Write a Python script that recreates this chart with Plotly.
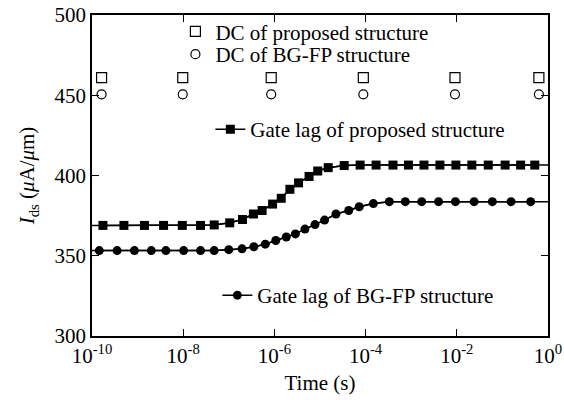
import plotly.graph_objects as go

# DC reference points (time exponents, log10 seconds) and currents (uA/um)
dc_log_t = [-9.79, -8.01, -6.07, -4.05, -2.04, -0.20]
dc_prop_ids = [461.0, 461.0, 461.0, 461.0, 461.0, 461.0]
dc_bgfp_ids = [450.6, 450.6, 450.6, 450.6, 450.6, 450.6]

# Gate-lag transient, proposed structure
gl_prop_log_t = [-9.76, -9.30, -8.85, -8.43, -8.02, -7.62, -7.32, -6.98, -6.70,
                 -6.46, -6.27, -6.04, -5.85, -5.66, -5.47, -5.24, -5.05, -4.82,
                 -4.47, -4.12, -3.77, -3.40, -3.06, -2.72, -2.37, -2.02, -1.67,
                 -1.31, -0.94, -0.60, -0.29]
gl_prop_ids = [368.9, 368.9, 368.9, 368.9, 368.9, 368.9, 369.2, 370.5, 372.6,
               376.0, 378.2, 382.2, 385.8, 391.4, 395.4, 399.4, 402.8, 404.9,
               406.2, 406.5, 406.5, 406.5, 406.5, 406.5, 406.5, 406.5, 406.5,
               406.5, 406.5, 406.5, 406.5]

# Gate-lag transient, BG-FP structure
gl_bgfp_log_t = [-9.84, -9.45, -9.07, -8.70, -8.38, -7.99, -7.62, -7.32, -7.00,
                 -6.71, -6.45, -6.20, -5.97, -5.74, -5.54, -5.33, -5.11, -4.90,
                 -4.65, -4.37, -4.14, -3.83, -3.48, -3.13, -2.77, -2.40, -2.03,
                 -1.62, -1.22, -0.81, -0.38]
gl_bgfp_ids = [353.2, 353.2, 353.2, 353.2, 353.2, 353.2, 353.2, 353.2, 353.8,
               354.3, 355.6, 357.2, 359.5, 361.7, 363.6, 366.6, 369.4, 372.2,
               376.0, 378.2, 380.5, 382.5, 383.7, 383.7, 383.7, 383.7, 383.7,
               383.7, 383.7, 383.7, 383.7]

x_tick_exps = [-10, -8, -6, -4, -2, 0]
y_ticks = [300, 350, 400, 450, 500]

FONT = "Liberation Serif"
FS = 21
to_t = lambda exps: [10.0 ** e for e in exps]

fig = go.Figure()

# lag curves: the fitted line spans the whole time window
for lt, ids in [(gl_prop_log_t, gl_prop_ids), (gl_bgfp_log_t, gl_bgfp_ids)]:
    fig.add_trace(go.Scatter(
        x=[10.0 ** x_tick_exps[0]] + to_t(lt) + [10.0 ** x_tick_exps[-1]],
        y=[ids[0]] + ids + [ids[-1]],
        mode="lines", line=dict(color="black", width=1.5),
        showlegend=False, hoverinfo="skip"))

fig.add_trace(go.Scatter(
    x=to_t(dc_log_t), y=dc_prop_ids, mode="markers",
    name="DC of proposed structure", legend="legend",
    marker=dict(symbol="square-open", size=10, color="black", line=dict(width=1.2))))
fig.add_trace(go.Scatter(
    x=to_t(dc_log_t), y=dc_bgfp_ids, mode="markers",
    name="DC of BG-FP structure", legend="legend2",
    marker=dict(symbol="circle-open", size=9, color="black", line=dict(width=1.2))))
fig.add_trace(go.Scatter(
    x=to_t(gl_prop_log_t), y=gl_prop_ids, mode="lines+markers",
    name="Gate lag of proposed structure", legend="legend3",
    line=dict(color="black", width=1.5),
    marker=dict(symbol="square", size=9, color="black")))
fig.add_trace(go.Scatter(
    x=to_t(gl_bgfp_log_t), y=gl_bgfp_ids, mode="lines+markers",
    name="Gate lag of BG-FP structure", legend="legend4",
    line=dict(color="black", width=1.5),
    marker=dict(symbol="circle", size=9, color="black")))

L, R, T, B = 91.5, 548.0, 11.0, 336.0
W, H = R - L, B - T
px = lambda x: (x - L) / W
py = lambda y: (B - y) / H

def leg(x, y):
    return dict(x=px(x), y=py(y), xanchor="left", yanchor="middle",
                bgcolor="rgba(0,0,0,0)", borderwidth=0,
                font=dict(family=FONT, size=FS, color="black"))

axis_common = dict(showline=True, linecolor="black", linewidth=1.5, mirror="ticks",
                   ticks="inside", ticklen=7, tickwidth=1.2, tickcolor="black",
                   showgrid=False, zeroline=False, automargin=False,
                   tickfont=dict(family=FONT, size=FS, color="black"))

fig.update_layout(
    width=564, height=400,
    margin=dict(l=L, r=564 - R, t=T, b=400 - B),
    paper_bgcolor="white", plot_bgcolor="white",
    font=dict(family=FONT, size=FS, color="black"),
    legend=leg(175, 28),
    legend2=leg(175, 51),
    legend3=leg(210, 127),
    legend4=leg(217, 295),
    xaxis=dict(type="log", range=[x_tick_exps[0], x_tick_exps[-1]],
               tickvals=[10.0 ** e for e in x_tick_exps],
               ticktext=[f"10<sup>{e}</sup>" for e in x_tick_exps],
               title=dict(text="Time (s)", standoff=8,
                          font=dict(family=FONT, size=FS)),
               **axis_common),
    yaxis=dict(range=[y_ticks[0], y_ticks[-1]], tickvals=y_ticks,
               title=dict(text="<i>I</i><sub>ds</sub> (<i>μ</i>A/<i>μ</i>m)",
                          standoff=14, font=dict(family=FONT, size=FS)),
               **axis_common),
)

fig.write_html("out.html")
